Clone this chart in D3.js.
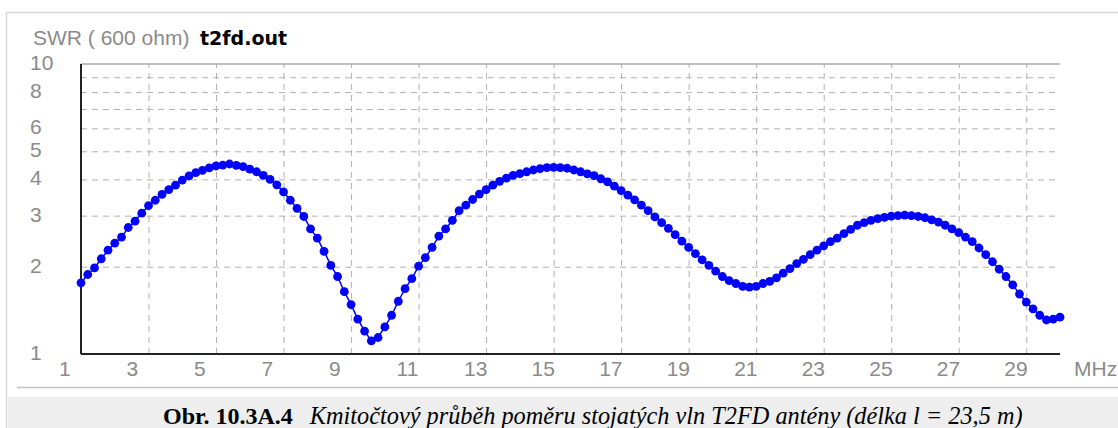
<!DOCTYPE html>
<html>
<head>
<meta charset="utf-8">
<script src="https://cdn.jsdelivr.net/npm/d3@7"></script>
<style>
body { margin: 0; background: #fff; }
svg { display: block; }
</style>
</head>
<body>
<svg width="1118" height="428"></svg>
<script>
// sweep settings of the MMANA output (MHz)
const freqStart = 1.0
const freqStep = 0.2

// SWR values, one per sweep step
const swr = [
  1.76, 1.88, 1.98, 2.13, 2.28, 2.41, 2.53, 2.73, 2.87, 3.06,
  3.25, 3.39, 3.55, 3.69, 3.82, 3.98, 4.11, 4.22, 4.30, 4.38,
  4.45, 4.48, 4.52, 4.47, 4.43, 4.34, 4.25, 4.13, 4.00, 3.83,
  3.62, 3.39, 3.18, 2.98, 2.70, 2.51, 2.26, 2.02, 1.85, 1.64,
  1.48, 1.32, 1.20, 1.11, 1.14, 1.24, 1.36, 1.52, 1.68, 1.82,
  2.01, 2.15, 2.33, 2.55, 2.70, 2.89, 3.12, 3.26, 3.41, 3.56,
  3.69, 3.82, 3.94, 4.04, 4.13, 4.19, 4.25, 4.31, 4.36, 4.39,
  4.40, 4.39, 4.37, 4.31, 4.25, 4.18, 4.12, 4.02, 3.92, 3.79,
  3.66, 3.53, 3.40, 3.26, 3.12, 2.97, 2.84, 2.71, 2.58, 2.45,
  2.33, 2.22, 2.11, 2.02, 1.93, 1.85, 1.79, 1.75, 1.71, 1.70,
  1.71, 1.75, 1.78, 1.83, 1.90, 1.97, 2.05, 2.12, 2.20, 2.28,
  2.36, 2.44, 2.51, 2.60, 2.69, 2.78, 2.84, 2.89, 2.93, 2.96,
  2.99, 3.00, 3.01, 3.00, 2.98, 2.95, 2.90, 2.85, 2.78, 2.70,
  2.62, 2.53, 2.44, 2.32, 2.20, 2.08, 1.96, 1.85, 1.73, 1.61,
  1.51, 1.43, 1.36, 1.31, 1.32, 1.34
]

const xTickLabels = [1, 3, 5, 7, 9, 11, 13, 15, 17, 19, 21, 23, 25, 27, 29]
const xGridValues = [3, 5, 7, 9, 11, 13, 15, 17, 19, 21, 23, 25, 27, 29]
const yTickLabels = [1, 2, 3, 4, 5, 6, 8, 10]
const yGridValues = [2, 3, 4, 5, 6, 7, 8, 9]

const titleText = "SWR ( 600 ohm)"
const fileName = "t2fd.out"
const unitText = "MHz"
const captionBold = "Obr. 10.3A.4"
const captionText = "Kmitočtový průběh poměru stojatých vln T2FD antény (délka l = 23,5 m)"

let data = swr.map((s, i) => { return { f: freqStart + i * freqStep, s: s } })

let svg = d3.select("svg")

let plotL = 81, plotR = 1060, plotT = 64, plotB = 354

let x = d3.scaleLinear().domain([1, 30]).range([plotL, plotR])
let y = d3.scaleLog().domain([1, 10]).range([plotB, plotT])

let labelFont = "'Liberation Sans', Arial, sans-serif"
let labelColor = "#8a8a8a"

// page frame + caption band
svg.append("rect")
  .attr("x", 8).attr("y", 397)
  .attr("width", 1110).attr("height", 31)
  .attr("fill", "#eeeeee")

svg.append("line")
  .attr("x1", 6).attr("x2", 1118).attr("y1", 12.5).attr("y2", 12.5)
  .attr("stroke", "#d8d8d8").attr("stroke-width", 1.5)

svg.append("line")
  .attr("x1", 6.5).attr("x2", 6.5).attr("y1", 12).attr("y2", 428)
  .attr("stroke", "#d8d8d8").attr("stroke-width", 1.5)

svg.append("line")
  .attr("x1", 17).attr("x2", 1118).attr("y1", 387.5).attr("y2", 387.5)
  .attr("stroke", "#c4c4c4").attr("stroke-width", 1.5)

// grid
let grid = svg.append("g")

grid.append("g")
  .attr("transform", "translate(0," + plotB + ")")
  .call(d3.axisBottom(x).tickValues(xGridValues).tickSize(-(plotB - plotT)).tickFormat(""))
  .call(g => g.select(".domain").remove())
  .selectAll("line")
  .attr("stroke", "#b0b0b0")
  .attr("stroke-dasharray", "6,5")

grid.append("g")
  .attr("transform", "translate(" + plotL + ",0)")
  .call(d3.axisLeft(y).tickValues(yGridValues).tickSize(-(plotR - plotL)).tickFormat(""))
  .call(g => g.select(".domain").remove())
  .selectAll("line")
  .attr("stroke", "#b0b0b0")
  .attr("stroke-dasharray", "6,5")

// frame of the plot
svg.append("line")
  .attr("x1", plotL).attr("x2", plotR).attr("y1", plotT).attr("y2", plotT)
  .attr("stroke", "#a8a8a8").attr("stroke-width", 1.5)

svg.append("line")
  .attr("x1", plotL).attr("x2", plotL).attr("y1", plotT).attr("y2", plotB)
  .attr("stroke", "#222").attr("stroke-width", 2)

svg.append("line")
  .attr("x1", plotL).attr("x2", plotR).attr("y1", plotB).attr("y2", plotB)
  .attr("stroke", "#222").attr("stroke-width", 2)

// tick labels
svg.append("g").selectAll("text")
  .data(yTickLabels)
  .join("text")
  .attr("x", 30)
  .attr("y", (d) => { return y(d) + 6 })
  .attr("font-family", labelFont)
  .attr("font-size", "21px")
  .attr("fill", labelColor)
  .text((d) => { return d })

svg.append("g").selectAll("text")
  .data(xTickLabels)
  .join("text")
  .attr("x", (d) => { return x(d) - 22 })
  .attr("y", 376)
  .attr("font-family", labelFont)
  .attr("font-size", "21px")
  .attr("fill", labelColor)
  .text((d) => { return d })

svg.append("text")
  .attr("x", 1074).attr("y", 376)
  .attr("font-family", labelFont)
  .attr("font-size", "21px")
  .attr("fill", labelColor)
  .text(unitText)

// title
svg.append("text")
  .attr("x", 33).attr("y", 45)
  .attr("font-family", labelFont)
  .attr("font-size", "21px")
  .attr("fill", labelColor)
  .text(titleText)

svg.append("text")
  .attr("x", 200).attr("y", 45)
  .attr("font-family", "'DejaVu Sans', Verdana, sans-serif")
  .attr("font-weight", "bold")
  .attr("font-size", "19px")
  .attr("fill", "#000")
  .text(fileName)

// SWR curve
let line = d3.line()
  .x((d) => { return x(d.f) })
  .y((d) => { return y(d.s) })

svg.append("path")
  .datum(data)
  .attr("fill", "none")
  .attr("stroke", "#0000ff")
  .attr("stroke-width", 1.5)
  .attr("d", line)

svg.append("g").selectAll("circle")
  .data(data)
  .join("circle")
  .attr("cx", (d) => { return x(d.f) })
  .attr("cy", (d) => { return y(d.s) })
  .attr("r", 4.4)
  .attr("fill", "#0000ff")

// caption
let cap = svg.append("text")
  .attr("x", 163).attr("y", 424)
  .attr("font-family", "'Liberation Serif', 'Times New Roman', serif")
  .attr("font-size", "24px")
  .attr("fill", "#000")

cap.append("tspan")
  .attr("font-weight", "bold")
  .text(captionBold)

cap.append("tspan")
  .attr("dx", 17)
  .attr("font-style", "italic")
  .attr("font-size", "24.3px")
  .text(captionText)
</script>
</body>
</html>
